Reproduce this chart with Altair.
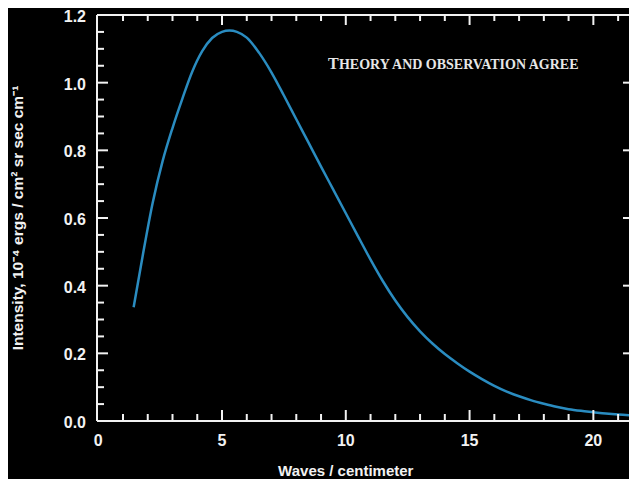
import altair as alt
import pandas as pd

# ---- data ----
wavenumber = [1.43, 1.8, 2.2, 2.6, 3.0, 3.4, 3.8, 4.2, 4.6, 5.0, 5.3, 5.6,
              6.0, 6.5, 7.0, 7.5, 8.0, 8.5, 9.0, 9.5, 10.0, 10.5, 11.0, 11.5,
              12.0, 12.5, 13.0, 13.5, 14.0, 14.5, 15.0, 15.5, 16.0, 16.5,
              17.0, 17.5, 18.0, 18.5, 19.0, 19.5, 20.0, 20.5, 21.0, 21.5]
intensity = [0.336, 0.490, 0.645, 0.768, 0.866, 0.953, 1.033, 1.093, 1.132,
             1.150, 1.154, 1.150, 1.133, 1.088, 1.030, 0.962, 0.892, 0.822,
             0.752, 0.683, 0.614, 0.545, 0.477, 0.413, 0.356, 0.307, 0.265,
             0.229, 0.198, 0.171, 0.146, 0.124, 0.104, 0.087, 0.073, 0.061,
             0.051, 0.042, 0.035, 0.030, 0.026, 0.022, 0.019, 0.017]

x_labels = [0, 5, 10, 15, 20]
y_labels = [0.0, 0.2, 0.4, 0.6, 0.8, 1.0, 1.2]
x_major = [5, 10, 15, 20]
x_minor = [1, 2, 3, 4, 6, 7, 8, 9, 11, 12, 13, 14, 16, 17, 18, 19, 21]
y_major = [0.2, 0.4, 0.6, 0.8, 1.0]
y_minor = [0.05, 0.1, 0.15, 0.25, 0.3, 0.35, 0.45, 0.5, 0.55, 0.65, 0.7,
           0.75, 0.85, 0.9, 0.95, 1.05, 1.1, 1.15]

x_domain = [-0.05, 21.44]
y_domain = [0.0, 1.2]

note_first = "T"
note_rest = "HEORY AND OBSERVATION AGREE"
note_pos = {"x": 9.28, "y": 1.04}

x_title = "Waves / centimeter"
x_title_at = 10.0
y_title = "Intensity, 10\u207b\u2074 ergs / cm\u00b2 sr sec cm\u207b\u00b9"
y_title_at = 0.6

FG = "#f2f2f2"
CURVE = "#2a8cc0"
SANS = "Liberation Sans"
SERIF = "Liberation Serif"

xs = alt.Scale(domain=x_domain, nice=False, zero=False)
ys = alt.Scale(domain=y_domain, nice=False, zero=False)

df = pd.DataFrame({"wn": wavenumber, "I": intensity})

curve = alt.Chart(df).mark_line(
    color=CURVE, strokeWidth=2.5, interpolate="monotone", clip=True
).encode(
    x=alt.X("wn:Q", scale=xs, axis=None),
    y=alt.Y("I:Q", scale=ys, axis=None),
)

one = pd.DataFrame({"a": [0]})

# frame lines (left, bottom, top); the right side lies at the picture's edge
left_line = alt.Chart(one).mark_rule(color=FG, strokeWidth=2).encode(
    x=alt.XDatum(x_domain[0], scale=xs, axis=None))
bottom_line = alt.Chart(one).mark_rule(color=FG, strokeWidth=2).encode(
    y=alt.YDatum(y_domain[0], scale=ys, axis=None))
top_line = alt.Chart(one).mark_rule(color=FG, strokeWidth=2).encode(
    y=alt.YDatum(y_domain[1], scale=ys, axis=None))


def hticks(vals, at, offset):
    d = pd.DataFrame({"v": vals})
    return alt.Chart(d).mark_rule(color=FG, strokeWidth=2, y2Offset=offset).encode(
        x=alt.X("v:Q", scale=xs, axis=None),
        y=alt.YDatum(at, scale=ys, axis=None),
        y2=alt.Y2Datum(at),
    )


def vticks(vals, at, offset):
    d = pd.DataFrame({"v": vals})
    return alt.Chart(d).mark_rule(color=FG, strokeWidth=2, x2Offset=offset).encode(
        y=alt.Y("v:Q", scale=ys, axis=None),
        x=alt.XDatum(at, scale=xs, axis=None),
        x2=alt.X2Datum(at),
    )


ticks = [
    hticks(x_minor, y_domain[0], -7), hticks(x_major, y_domain[0], -11),
    hticks(x_minor, y_domain[1], 6), hticks(x_major, y_domain[1], 10),
    vticks(y_minor, x_domain[0], 7), vticks(y_major, x_domain[0], 11),
    vticks(y_major, x_domain[1], -6),
]

# tick labels
xl = alt.Chart(pd.DataFrame({"v": x_labels})).mark_text(
    font=SANS, fontSize=16, fontWeight="bold", color=FG,
    align="center", baseline="top", dy=12
).encode(x=alt.X("v:Q", scale=xs, axis=None),
         y=alt.YDatum(y_domain[0], scale=ys, axis=None),
         text=alt.Text("v:Q", format="d"))

yl = alt.Chart(pd.DataFrame({"v": y_labels})).mark_text(
    font=SANS, fontSize=16, fontWeight="bold", color=FG,
    align="right", baseline="middle", dx=-11, dy=2
).encode(y=alt.Y("v:Q", scale=ys, axis=None),
         x=alt.XDatum(x_domain[0], scale=xs, axis=None),
         text=alt.Text("v:Q", format=".1f"))

# axis titles
xt = alt.Chart(pd.DataFrame({"t": [x_title]})).mark_text(
    font=SANS, fontSize=15, fontWeight="bold", color=FG,
    align="center", baseline="alphabetic", dy=55
).encode(x=alt.XDatum(x_title_at, scale=xs, axis=None),
         y=alt.YDatum(y_domain[0], scale=ys, axis=None),
         text="t:N")

yt = alt.Chart(pd.DataFrame({"t": [y_title]})).mark_text(
    font=SANS, fontSize=15.5, fontWeight="bold", color=FG,
    align="center", baseline="middle", angle=270, dy=-79
).encode(x=alt.XDatum(x_domain[0], scale=xs, axis=None),
         y=alt.YDatum(y_title_at, scale=ys, axis=None),
         text="t:N")

# annotation in small caps
note_df = pd.DataFrame([{"x": note_pos["x"], "y": note_pos["y"],
                         "a": note_first, "b": note_rest}])
note_a = alt.Chart(note_df).mark_text(
    font=SERIF, fontSize=16, fontWeight="bold", color="#e6e6e6",
    align="left", baseline="alphabetic"
).encode(x=alt.X("x:Q", scale=xs, axis=None), y=alt.Y("y:Q", scale=ys, axis=None),
         text="a:N")
note_b = alt.Chart(note_df).mark_text(
    font=SERIF, fontSize=14, fontWeight="bold", color="#e6e6e6",
    align="left", baseline="alphabetic", dx=11
).encode(x=alt.X("x:Q", scale=xs, axis=None), y=alt.Y("y:Q", scale=ys, axis=None),
         text="b:N")

chart = alt.layer(
    curve, left_line, bottom_line, top_line, *ticks, xl, yl, xt, yt, note_a, note_b
).properties(
    width=532, height=406,
    autosize=alt.AutoSizeParams(type="none"),
    padding={"left": 89, "top": 7, "right": 0, "bottom": 58},
    background="black",
    usermeta={"embedOptions": {"defaultStyle": "html,body{background:#000;}"}},
).configure_view(stroke=None)

chart.save("out.html", embed_options={"renderer": "svg", "actions": False})
